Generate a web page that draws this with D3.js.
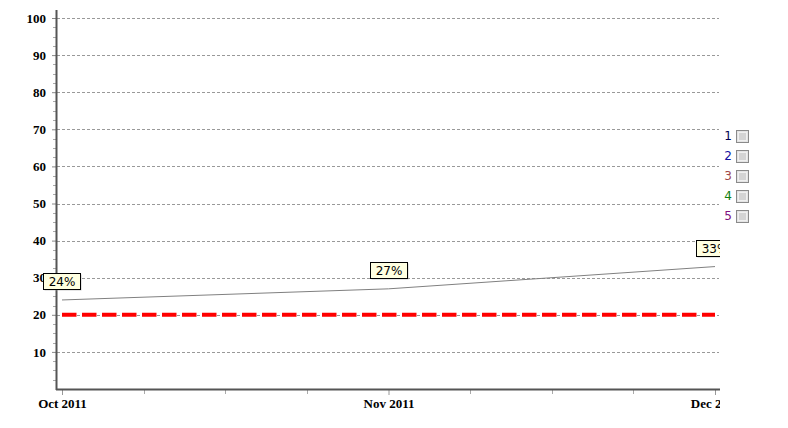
<!DOCTYPE html>
<html><head><meta charset="utf-8">
<script src="https://cdn.jsdelivr.net/npm/d3@7"></script>
<style>body{margin:0;background:#fff}</style>
</head><body>
<svg id="c" width="788" height="428"></svg>
<script>
const months = ["Oct 2011", "Nov 2011", "Dec 2011"];
const values = [24, 27, 33];
const valueLabels = ["24%", "27%", "33%"];
const targetValues = [20, 20, 20];
const yTicks = [10, 20, 30, 40, 50, 60, 70, 80, 90, 100];
const legendItems = ["1", "2", "3", "4", "5"];
const legendColors = ["#000050", "#1010a0", "#a04848", "#108010", "#801080"];

const svg = d3.select("#c");
const L = 57, R = 720, T = 18, B = 389;
const x = d3.scaleLinear().domain([0, 2]).range([62, 715]);
const y = d3.scaleLinear().domain([0, 100]).range([B, T]);

const defs = svg.append("defs");
defs.append("clipPath").attr("id", "clip").append("rect").attr("x", 0).attr("y", 0).attr("width", R).attr("height", 428);

// gridlines
svg.append("g").selectAll("line").data(yTicks).join("line")
  .attr("x1", L).attr("x2", R - 1)
  .attr("y1", d => Math.round(y(d)) + 0.5).attr("y2", d => Math.round(y(d)) + 0.5)
  .attr("stroke", "#999").attr("stroke-dasharray", "3,2").attr("stroke-width", 1);

// y axis
const yAxis = d3.axisLeft(y).tickValues(yTicks).tickSize(4).tickPadding(6);
const gy = svg.append("g").attr("transform", `translate(${L - 1},0)`).call(yAxis);
gy.select(".domain").remove();
gy.selectAll(".tick line").attr("stroke", "#888");
gy.selectAll("text").attr("font-family", "Liberation Serif, Times New Roman, serif")
  .attr("font-weight", "bold").attr("font-size", 13).attr("fill", "#000");
// minor y ticks
const minorY = d3.range(2.5, 100, 2.5).filter(v => v % 10 !== 0);
svg.append("g").selectAll("line").data(minorY).join("line")
  .attr("x1", L - 4).attr("x2", L - 1)
  .attr("y1", d => Math.round(y(d)) + 0.5).attr("y2", d => Math.round(y(d)) + 0.5)
  .attr("stroke", "#aaa");

// x axis
const xAxis = d3.axisBottom(x).tickValues([0, 1, 2]).tickFormat(i => months[i]).tickSize(5).tickPadding(4);
const gx = svg.append("g").attr("transform", `translate(0,${B + 1})`).call(xAxis);
gx.select(".domain").remove();
gx.selectAll(".tick line").attr("stroke", "#999");
gx.selectAll("text").attr("font-family", "Liberation Serif, Times New Roman, serif")
  .attr("font-weight", "bold").attr("font-size", 13).attr("fill", "#000");
gx.attr("clip-path", "url(#clip)");
const minorX = d3.range(0.25, 2, 0.25).filter(v => v % 1 !== 0);
svg.append("g").selectAll("line").data(minorX).join("line")
  .attr("x1", d => Math.round(x(d)) + 0.5).attr("x2", d => Math.round(x(d)) + 0.5)
  .attr("y1", B + 1).attr("y2", B + 5).attr("stroke", "#aaa");

// axis lines
svg.append("line").attr("x1", L - 0.5).attr("x2", L - 0.5).attr("y1", 10).attr("y2", B + 1)
  .attr("stroke", "#555").attr("stroke-width", 2);
svg.append("line").attr("x1", L - 1).attr("x2", R).attr("y1", B + 0.5).attr("y2", B + 0.5)
  .attr("stroke", "#555").attr("stroke-width", 2);

const plot = svg.append("g").attr("clip-path", "url(#clip)");
// target line
plot.append("path").datum(targetValues)
  .attr("d", d3.line().x((d, i) => x(i)).y(d => y(d)))
  .attr("fill", "none").attr("stroke", "#ff0000").attr("stroke-width", 4)
  .attr("stroke-dasharray", "14.5,5.5");
// value line
plot.append("path").datum(values)
  .attr("d", d3.line().x((d, i) => x(i)).y(d => y(d)))
  .attr("fill", "none").attr("stroke", "#808080").attr("stroke-width", 1);

// labels
const lg = plot.selectAll("g.lab").data(values).join("g").attr("class", "lab")
  .attr("transform", (d, i) => `translate(${Math.round(x(i))},${Math.round(y(d)) - 10})`);
lg.append("rect").attr("x", -17.5).attr("y", -15.5).attr("width", 37).attr("height", 16)
  .attr("fill", "#999").attr("opacity", 0.5);
lg.append("rect").attr("x", -18.5).attr("y", -16.5).attr("width", 37).attr("height", 16)
  .attr("fill", "#ffffe1").attr("stroke", "#000").attr("stroke-width", 1);
lg.append("text").attr("x", 0).attr("y", -4.5).attr("text-anchor", "middle")
  .attr("font-family", "DejaVu Sans, Verdana, sans-serif").attr("font-size", 12).attr("fill", "#000")
  .text((d, i) => valueLabels[i]);

// legend
const leg = svg.append("g").selectAll("g").data(legendItems).join("g")
  .attr("transform", (d, i) => `translate(0,${130 + i * 20})`);
leg.append("text").attr("x", 732).attr("y", 10).attr("text-anchor", "end")
  .attr("font-family", "DejaVu Sans, Verdana, sans-serif").attr("font-size", 12)
  .attr("fill", (d, i) => legendColors[i]).text(d => d);
leg.append("rect").attr("x", 736.5).attr("y", 0.5).attr("width", 12).attr("height", 12)
  .attr("fill", "#e4e4e4").attr("stroke", "#8a8a8a");
leg.append("rect").attr("x", 738.5).attr("y", 2.5).attr("width", 8).attr("height", 8)
  .attr("fill", "#d4d4d4").attr("stroke", "#f0f0f0");
</script>
</body></html>
